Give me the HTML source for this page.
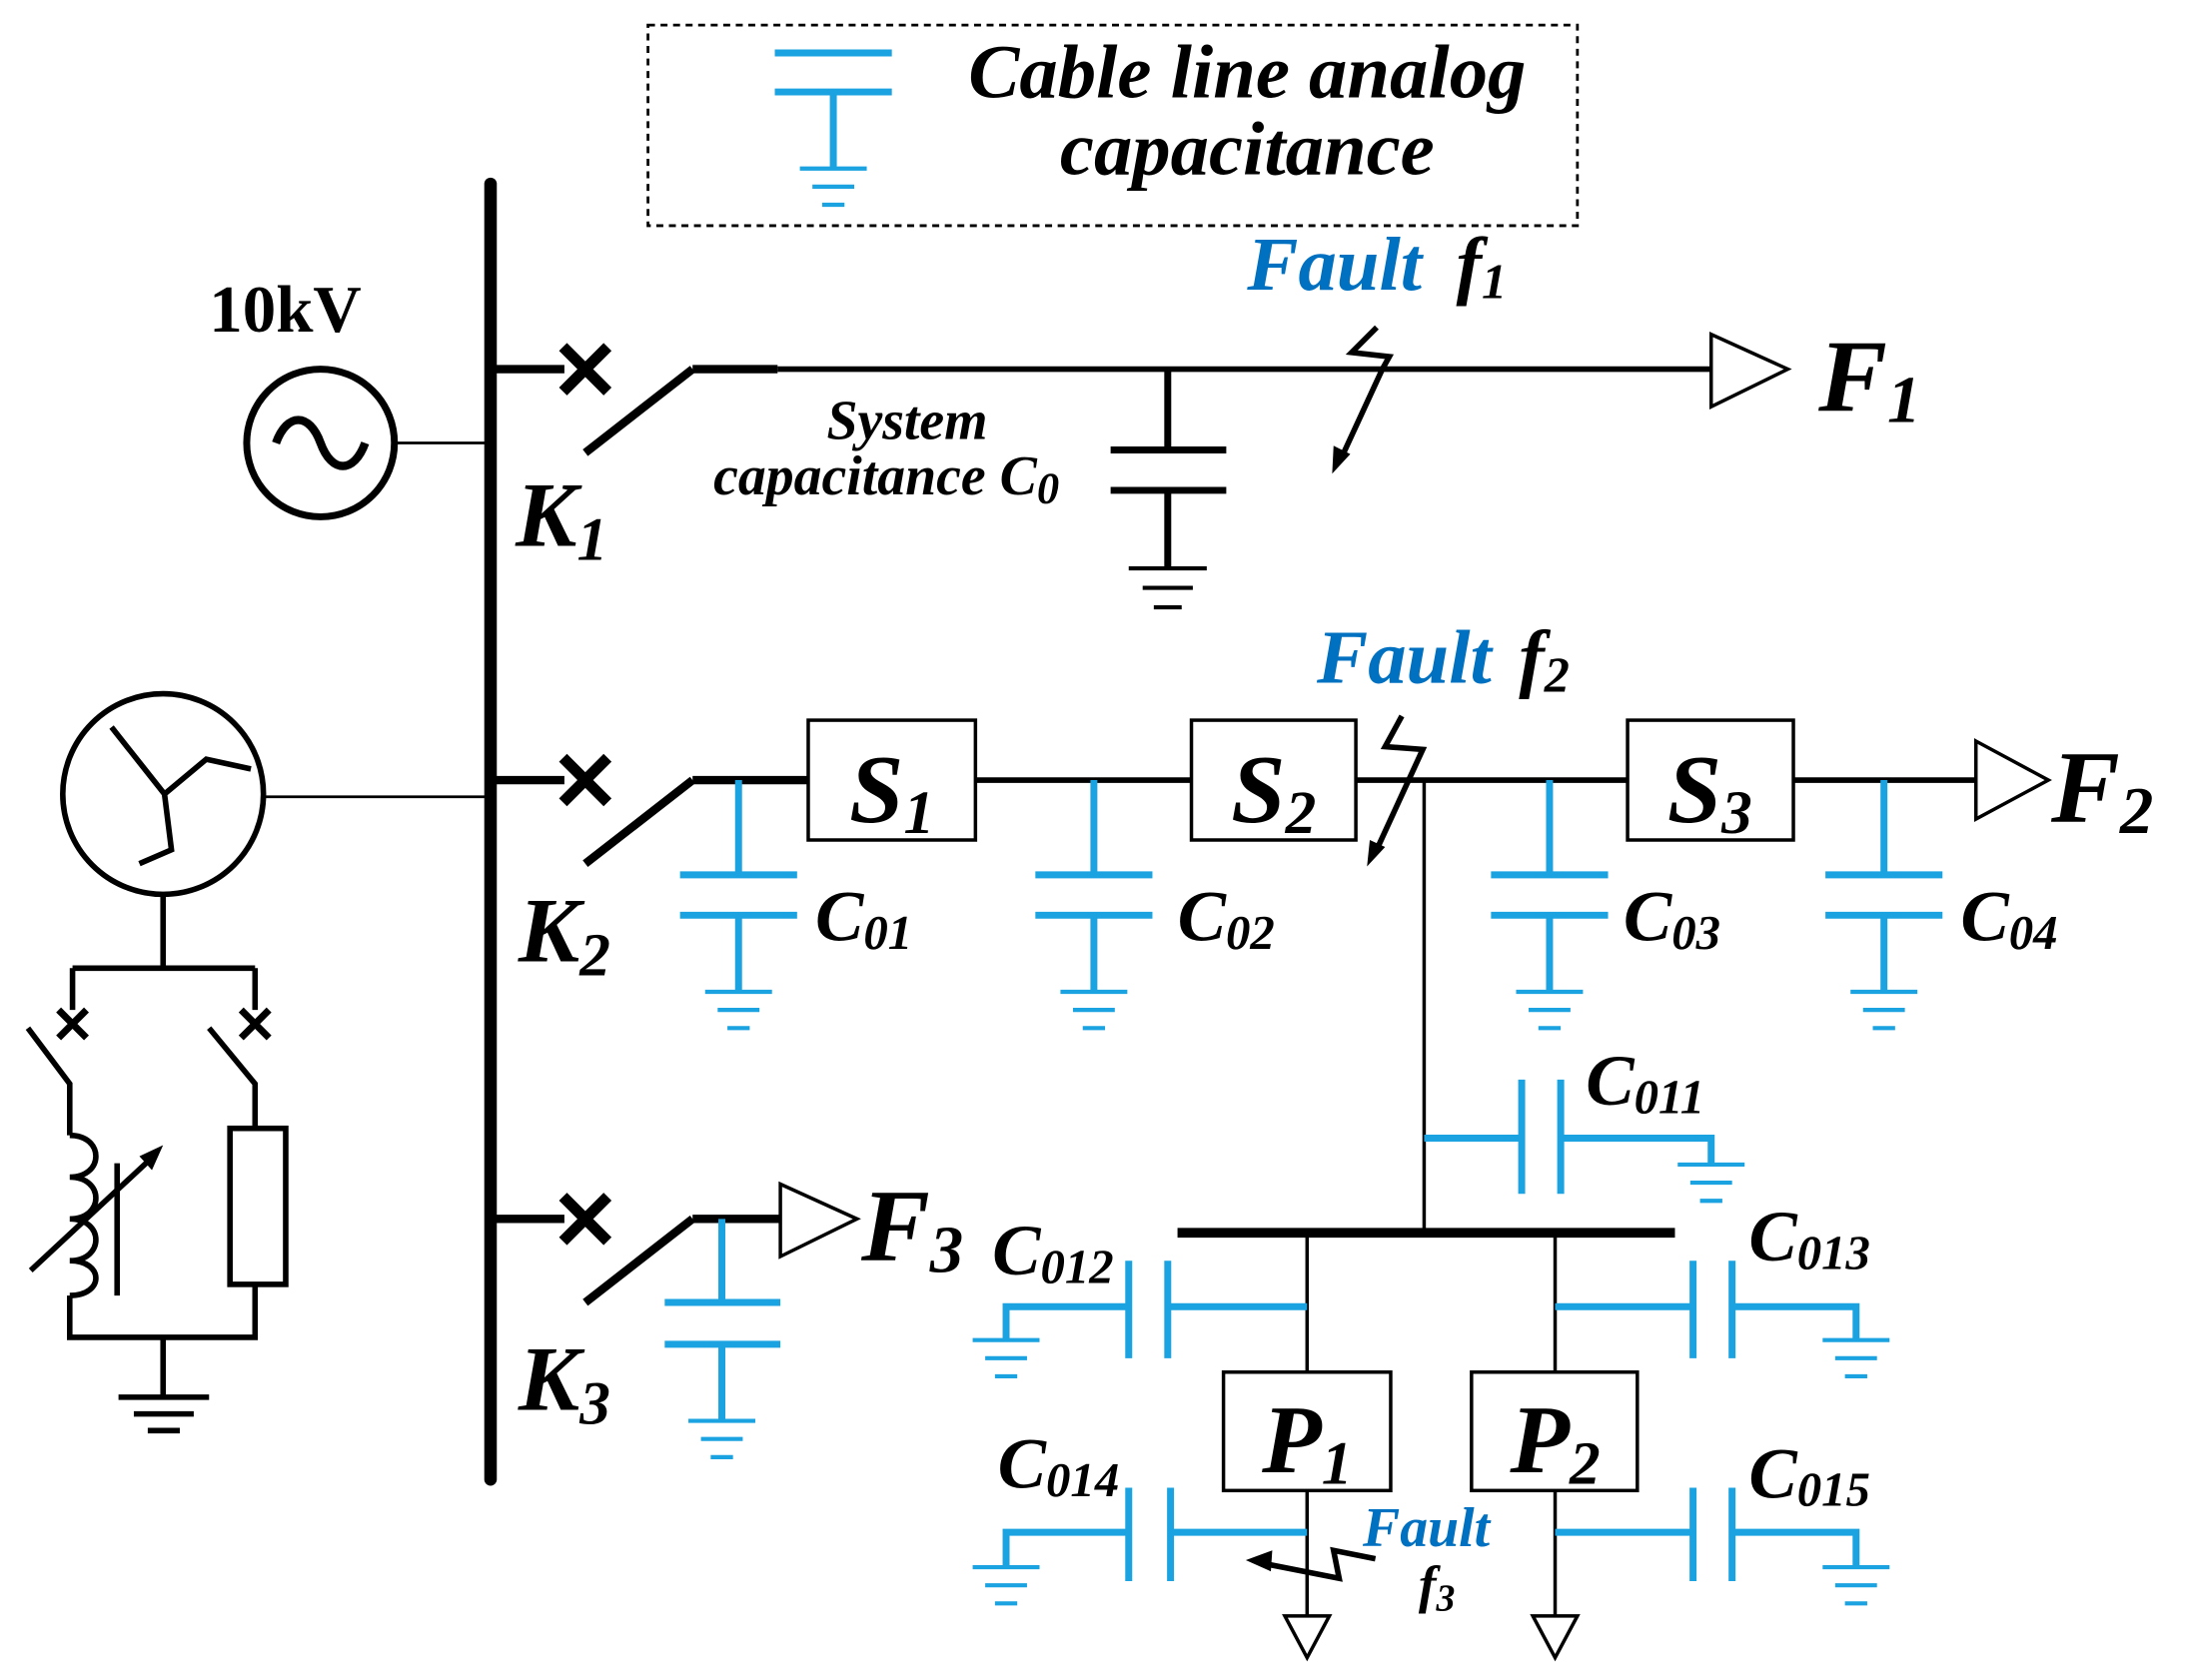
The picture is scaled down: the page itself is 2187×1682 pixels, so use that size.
<!DOCTYPE html>
<html><head><meta charset="utf-8"><style>
html,body{margin:0;padding:0;background:#fff}
svg{display:block}
text{font-family:"Liberation Serif",serif;font-style:italic;font-weight:bold}
</style></head><body>
<svg width="2187" height="1682" viewBox="0 0 1568 1206" xmlns="http://www.w3.org/2000/svg">
<defs>
<g id="capB" stroke="#1aa3e0" stroke-width="5" fill="none">
<line x1="0" y1="0" x2="0" y2="68"/>
<line x1="-42" y1="68" x2="42" y2="68"/>
<line x1="-42" y1="97" x2="42" y2="97"/>
<line x1="0" y1="97" x2="0" y2="152"/>
<line x1="-24" y1="152" x2="24" y2="152" stroke-width="3"/>
<line x1="-15" y1="165" x2="15" y2="165" stroke-width="3"/>
<line x1="-8" y1="178" x2="8" y2="178" stroke-width="3"/>
</g>
<g id="gnd" stroke="#1aa3e0" stroke-width="3">
<line x1="-24" y1="0" x2="24" y2="0"/>
<line x1="-15" y1="13" x2="15" y2="13"/>
<line x1="-8" y1="26" x2="8" y2="26"/>
</g>
<g id="xm" stroke="#000" stroke-width="8"><line x1="-16" y1="-16" x2="16" y2="16"/><line x1="-16" y1="16" x2="16" y2="-16"/></g>
<g id="xs" stroke="#000" stroke-width="5"><line x1="-10" y1="-10" x2="10" y2="10"/><line x1="-10" y1="10" x2="10" y2="-10"/></g>
</defs>

<!-- legend -->
<rect x="465" y="18" width="667" height="144" fill="none" stroke="#000" stroke-width="2" stroke-dasharray="5,4"/>
<g stroke="#1aa3e0" stroke-width="5"><line x1="556" y1="38" x2="640" y2="38"/><line x1="556" y1="66" x2="640" y2="66"/><line x1="598" y1="66" x2="598" y2="120"/></g>
<use href="#gnd" x="598" y="121"/>
<text x="895" y="70" font-size="55" text-anchor="middle">Cable line analog</text>
<text x="895" y="125" font-size="55" text-anchor="middle">capacitance</text>

<!-- bus -->
<line x1="352" y1="132" x2="352" y2="1062" stroke="#000" stroke-width="9" stroke-linecap="round"/>

<!-- source -->
<circle cx="230" cy="318" r="53" fill="none" stroke="#000" stroke-width="5"/>
<path d="M198,318 C206,296 222,296 230,318 C238,340 254,340 262,318" fill="none" stroke="#000" stroke-width="6"/>
<line x1="283" y1="318" x2="350" y2="318" stroke="#000" stroke-width="2"/>
<text x="150" y="238" font-size="48" style="font-style:normal">10kV</text>

<!-- K1 feeder -->
<g stroke="#000" stroke-width="6" fill="none">
<line x1="352" y1="265" x2="405" y2="265"/>
<line x1="420" y1="325" x2="497" y2="265"/>
<line x1="497" y1="265" x2="558" y2="265"/>
<line x1="558" y1="265" x2="1228" y2="265" stroke-width="4"/>
<path d="M1228,240 L1283,265 L1228,292 Z" stroke-width="2.5"/>
</g>
<use href="#xm" x="420" y="265"/>
<text x="1305" y="295" font-size="74">F<tspan font-size="48" dy="8">1</tspan></text>
<text x="370" y="392" font-size="66">K<tspan font-size="44" dy="10">1</tspan></text>
<g stroke="#000" stroke-width="5" fill="none">
<line x1="838" y1="265" x2="838" y2="323"/>
<line x1="797" y1="323" x2="880" y2="323"/>
<line x1="797" y1="352" x2="880" y2="352"/>
<line x1="838" y1="352" x2="838" y2="408"/>
<line x1="810" y1="408" x2="866" y2="408" stroke-width="3"/>
<line x1="820" y1="422" x2="856" y2="422" stroke-width="3"/>
<line x1="828" y1="436" x2="848" y2="436" stroke-width="3"/>
</g>
<text x="651" y="315" font-size="40" text-anchor="middle">System</text>
<text x="512" y="355" font-size="40">capacitance C<tspan font-size="32" dy="6">0</tspan></text>
<text x="895" y="208" font-size="55" fill="#0070c0">Fault</text>
<text x="1045" y="208" font-size="55">f<tspan font-size="36" dy="6">1</tspan></text>
<path d="M988,235 L970,253 L997,256 L992,265 L962,330" fill="none" stroke="#000" stroke-width="4" stroke-linejoin="miter"/>
<path d="M956,340 L957,320 L969,326 Z" fill="#000"/>

<!-- K2 feeder -->
<g stroke="#000" stroke-width="6" fill="none">
<line x1="352" y1="560" x2="405" y2="560"/>
<line x1="420" y1="620" x2="497" y2="560"/>
<line x1="497" y1="560" x2="580" y2="560"/>
<line x1="700" y1="560" x2="855" y2="560" stroke-width="4"/>
<line x1="973" y1="560" x2="1168" y2="560" stroke-width="4"/>
<line x1="1287" y1="560" x2="1418" y2="560" stroke-width="4"/>
<path d="M1418,532 L1470,560 L1418,588 Z" stroke-width="2.5"/>
<rect x="580" y="517" width="120" height="86" stroke-width="2.5"/>
<rect x="855" y="517" width="118" height="86" stroke-width="2.5"/>
<rect x="1168" y="517" width="119" height="86" stroke-width="2.5"/>
</g>
<use href="#xm" x="420" y="560"/>
<text x="640" y="590" font-size="70" text-anchor="middle">S<tspan font-size="44" dy="8">1</tspan></text>
<text x="914" y="590" font-size="70" text-anchor="middle">S<tspan font-size="44" dy="8">2</tspan></text>
<text x="1227" y="590" font-size="70" text-anchor="middle">S<tspan font-size="44" dy="8">3</tspan></text>
<text x="1472" y="590" font-size="74">F<tspan font-size="48" dy="8">2</tspan></text>
<text x="372" y="690" font-size="66">K<tspan font-size="44" dy="10">2</tspan></text>
<use href="#capB" x="530" y="560"/>
<use href="#capB" x="785" y="560"/>
<use href="#capB" x="1112" y="560"/>
<use href="#capB" x="1352" y="560"/>
<text x="585" y="675" font-size="52">C<tspan font-size="35" dy="6">01</tspan></text>
<text x="845" y="675" font-size="52">C<tspan font-size="35" dy="6">02</tspan></text>
<text x="1165" y="675" font-size="52">C<tspan font-size="35" dy="6">03</tspan></text>
<text x="1407" y="675" font-size="52">C<tspan font-size="35" dy="6">04</tspan></text>
<text x="945" y="490" font-size="55" fill="#0070c0">Fault</text>
<text x="1090" y="490" font-size="55">f<tspan font-size="36" dy="6">2</tspan></text>
<path d="M1006,514 L994,536 L1021,538 L987,612" fill="none" stroke="#000" stroke-width="4"/>
<path d="M981,622 L983,603 L994,608 Z" fill="#000"/>

<!-- branch -->
<g stroke="#000" fill="none">
<line x1="1022" y1="560" x2="1022" y2="885" stroke-width="2.5"/>
<line x1="845" y1="885" x2="1202" y2="885" stroke-width="7"/>
<line x1="938" y1="885" x2="938" y2="985" stroke-width="2.5"/>
<line x1="1116" y1="885" x2="1116" y2="985" stroke-width="2.5"/>
<rect x="878" y="985" width="120" height="85" stroke-width="2.5"/>
<rect x="1056" y="985" width="119" height="85" stroke-width="2.5"/>
<line x1="938" y1="1070" x2="938" y2="1160" stroke-width="2.5"/>
<line x1="1116" y1="1070" x2="1116" y2="1160" stroke-width="2.5"/>
<path d="M922,1160 L954,1160 L938,1190 Z" stroke-width="2.5"/>
<path d="M1100,1160 L1132,1160 L1116,1190 Z" stroke-width="2.5"/>
</g>
<text x="938" y="1057" font-size="70" text-anchor="middle">P<tspan font-size="44" dy="8">1</tspan></text>
<text x="1116" y="1057" font-size="70" text-anchor="middle">P<tspan font-size="44" dy="8">2</tspan></text>

<g stroke="#1aa3e0" stroke-width="5" fill="none">
<path d="M1022,817 H1092 M1092,775 V857 M1120,775 V857 M1120,817 H1228 V836"/>
<path d="M938,938 H838 M838,905 V975 M810,905 V975 M810,938 H722 V962"/>
<path d="M1116,938 H1215 M1215,905 V975 M1243,905 V975 M1243,938 H1332 V962"/>
<path d="M938,1100 H840 M840,1068 V1135 M810,1068 V1135 M810,1100 H722 V1125"/>
<path d="M1116,1100 H1215 M1215,1068 V1135 M1243,1068 V1135 M1243,1100 H1332 V1125"/>
</g>
<use href="#gnd" x="1228" y="836"/>
<use href="#gnd" x="722" y="962"/>
<use href="#gnd" x="1332" y="962"/>
<use href="#gnd" x="722" y="1125"/>
<use href="#gnd" x="1332" y="1125"/>
<text x="1138" y="793" font-size="52">C<tspan font-size="35" dy="6">011</tspan></text>
<text x="712" y="915" font-size="52">C<tspan font-size="35" dy="6">012</tspan></text>
<text x="1255" y="905" font-size="52">C<tspan font-size="35" dy="6">013</tspan></text>
<text x="716" y="1068" font-size="52">C<tspan font-size="35" dy="6">014</tspan></text>
<text x="1255" y="1075" font-size="52">C<tspan font-size="35" dy="6">015</tspan></text>
<text x="978" y="1110" font-size="40" fill="#0070c0">Fault</text>
<text x="1018" y="1150" font-size="38">f<tspan font-size="27" dy="6">3</tspan></text>
<path d="M987,1119 L957,1113 L961,1133 L905,1122" fill="none" stroke="#000" stroke-width="4"/>
<path d="M894,1120 L913,1113 L912,1128 Z" fill="#000"/>

<!-- K3 feeder -->
<g stroke="#000" stroke-width="6" fill="none">
<line x1="352" y1="875" x2="405" y2="875"/>
<line x1="420" y1="935" x2="497" y2="875"/>
<line x1="497" y1="875" x2="560" y2="875"/>
<path d="M560,850 L615,875 L560,902 Z" stroke-width="2.5"/>
</g>
<use href="#xm" x="420" y="875"/>
<text x="618" y="905" font-size="74">F<tspan font-size="48" dy="8">3</tspan></text>
<text x="372" y="1012" font-size="66">K<tspan font-size="44" dy="10">3</tspan></text>
<g stroke="#1aa3e0" stroke-width="5" fill="none">
<line x1="518" y1="875" x2="518" y2="935"/>
<line x1="477" y1="935" x2="560" y2="935"/>
<line x1="477" y1="965" x2="560" y2="965"/>
<line x1="518" y1="965" x2="518" y2="1020"/>
</g>
<use href="#gnd" x="518" y="1020"/>

<!-- transformer & grounding -->
<circle cx="117" cy="570" r="72" fill="none" stroke="#000" stroke-width="4"/>
<line x1="189" y1="572" x2="350" y2="572" stroke="#000" stroke-width="2"/>
<path d="M80,522 L118,570 L148,545 L180,552 M118,570 L123,610 L100,620" fill="none" stroke="#000" stroke-width="4"/>
<g stroke="#000" stroke-width="4" fill="none">
<path d="M117,642 V695 M52,695 H183 M52,695 V725 M183,695 V725"/>
<path d="M20,738 L50,778 V815"/>
<path d="M150,738 L183,778 V810"/>
<rect x="165" y="810" width="40" height="112"/>
<path d="M50,815 c25,0 25,30 0,30 c25,0 25,30 0,30 c25,0 25,30 0,30 c25,0 25,25 0,25"/>
<line x1="84" y1="835" x2="84" y2="930"/>
<path d="M50,930 V960 H183 V922 M117,960 V1003"/>
<line x1="85" y1="1003" x2="150" y2="1003"/>
<line x1="96" y1="1015" x2="139" y2="1015"/>
<line x1="106" y1="1027" x2="129" y2="1027"/>
<line x1="22" y1="912" x2="108" y2="832"/>
</g>
<path d="M117,822 L100,830 L109,840 Z" fill="#000"/>
<use href="#xs" x="52" y="735"/>
<use href="#xs" x="183" y="735"/>
</svg>
</body></html>
